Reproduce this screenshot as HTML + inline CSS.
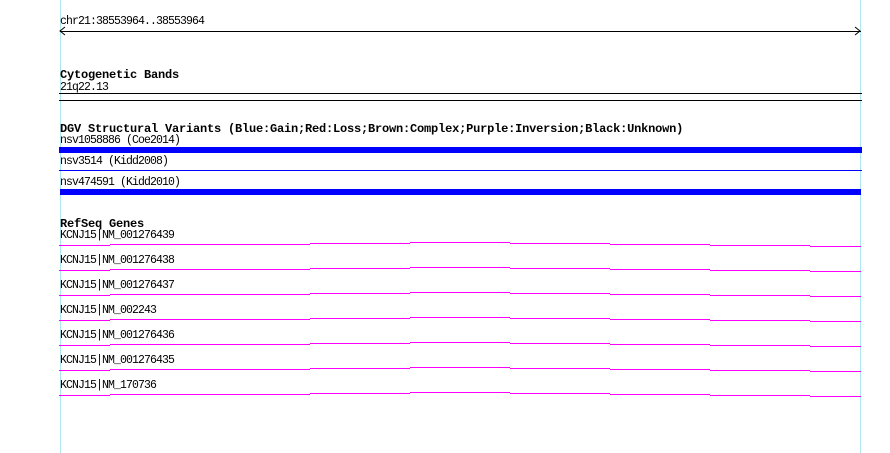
<!DOCTYPE html>
<html><head><meta charset="utf-8"><style>
body{margin:0;width:890px;height:453px;background:#fff;position:relative;overflow:hidden;font-family:"Liberation Mono","DejaVu Sans Mono",monospace;}
.a{position:absolute;}
.t{position:absolute;font-size:11.5px;line-height:12px;letter-spacing:-0.9px;color:#000;white-space:nowrap;left:60px;}
.b{position:absolute;font-size:12px;font-weight:bold;line-height:12px;letter-spacing:-0.2px;color:#000;white-space:nowrap;left:60px;}
</style></head><body>
<div class="a" style="left:60px;top:0;width:1px;height:453px;background:#aee8ee"></div>
<div class="a" style="left:860px;top:0;width:1px;height:453px;background:#aee8ee"></div>

<div class="t" style="top:16px">chr21:38553964..38553964</div>
<div class="a" style="left:60px;top:31px;width:801px;height:1px;background:#000"></div>
<svg class="a" style="left:56px;top:25px" width="810" height="14"><polyline points="9,2 4,6 9,10" fill="none" stroke="#000"/><polyline points="799,2 804,6 799,10" fill="none" stroke="#000"/></svg>

<div class="b" style="top:69px">Cytogenetic Bands</div>
<div class="t" style="top:82px">21q22.13</div>
<div class="a" style="left:59px;top:93px;width:803px;height:1px;background:#000"></div>
<div class="a" style="left:59px;top:100px;width:803px;height:1px;background:#000"></div>

<div class="b" style="top:123px">DGV Structural Variants (Blue:Gain;Red:Loss;Brown:Complex;Purple:Inversion;Black:Unknown)</div>
<div class="t" style="top:135px">nsv1058886 (Coe2014)</div>
<div class="a" style="left:59px;top:147px;width:803px;height:6px;background:#0000ff"></div>
<div class="t" style="top:156px">nsv3514 (Kidd2008)</div>
<div class="a" style="left:59px;top:170px;width:803px;height:1px;background:#0000ff"></div>
<div class="t" style="top:177px">nsv474591 (Kidd2010)</div>
<div class="a" style="left:60px;top:189px;width:801px;height:6px;background:#0000ff"></div>

<div class="b" style="top:218px">RefSeq Genes</div>
<div class="t" style="top:230px">KCNJ15|NM_001276439</div>
<div class="t" style="top:255px">KCNJ15|NM_001276438</div>
<div class="t" style="top:280px">KCNJ15|NM_001276437</div>
<div class="t" style="top:305px">KCNJ15|NM_002243</div>
<div class="t" style="top:330px">KCNJ15|NM_001276436</div>
<div class="t" style="top:355px">KCNJ15|NM_001276435</div>
<div class="t" style="top:380px">KCNJ15|NM_170736</div>

<svg class="a" style="left:0;top:0" width="890" height="453">
<g fill="#ff00ff" id="g0">
<rect x="59" y="245" width="51" height="1"/>
<rect x="110" y="244" width="100" height="1"/>
<rect x="210" y="244" width="100" height="1"/>
<rect x="310" y="243" width="100" height="1"/>
<rect x="410" y="242" width="100" height="1"/>
<rect x="510" y="243" width="100" height="1"/>
<rect x="610" y="244" width="100" height="1"/>
<rect x="710" y="245" width="100" height="1"/>
<rect x="810" y="246" width="51" height="1"/>
</g>
<use href="#g0" y="25"/>
<use href="#g0" y="50"/>
<use href="#g0" y="75"/>
<use href="#g0" y="100"/>
<use href="#g0" y="125"/>
<use href="#g0" y="150"/>
</svg>
</body></html>
